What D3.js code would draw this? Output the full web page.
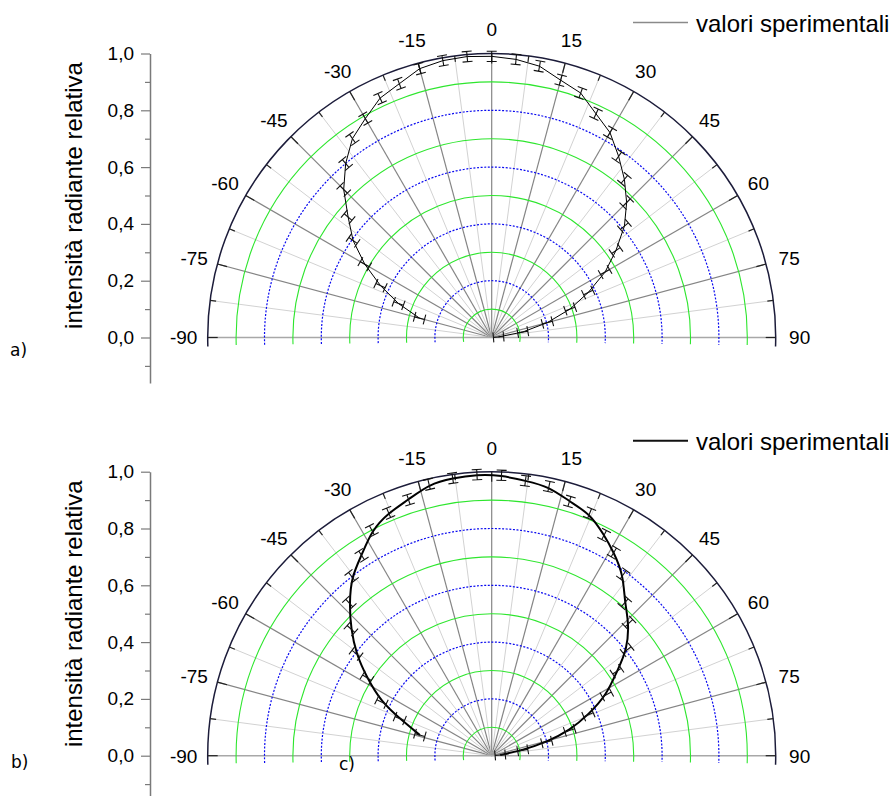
<!DOCTYPE html>
<html>
<head>
<meta charset="utf-8">
<script src="https://cdn.jsdelivr.net/npm/d3@7"></script>
<style>
  body { margin: 0; background: #fff; }
  svg { display: block; }
  text { font-family: "Liberation Sans", Arial, sans-serif; fill: #000; }
  text.letter { font-family: "DejaVu Sans", sans-serif; }
</style>
</head>
<body>
<div id="chart"></div>
<script>
// angle labels round the half circle (degrees)
const angleLabels = [-90, -75, -60, -45, -30, -15, 0, 15, 30, 45, 60, 75, 90];
// rings of the polar grid
const greenRings = [0.1, 0.3, 0.5, 0.7, 0.9];
const blueRings = [0.2, 0.4, 0.6, 0.8];
// radial axis ticks
const yTicks = [-0.1, 0, 0.1, 0.2, 0.3, 0.4, 0.5, 0.6, 0.7, 0.8, 0.9, 1.0];
const yLabels = [0, 0.2, 0.4, 0.6, 0.8, 1.0];

const axisTitle = 'intensità radiante relativa';
const legendText = 'valori sperimentali';

// a) measured points
const anglesA = [-75, -70, -65, -60, -55, -50, -45, -40, -35, -30, -25, -20, -15, -10, -5, 0,
                 5, 10, 15, 20, 25, 30, 35, 40, 45, 50, 55, 60, 65, 70, 75, 80, 85];
const valuesA = [0.263, 0.349, 0.432, 0.516, 0.596, 0.66, 0.737, 0.80, 0.855, 0.89, 0.93, 0.951, 0.98, 0.99, 0.993, 0.99,
                 0.983, 0.97, 0.938, 0.916, 0.869, 0.833, 0.779, 0.727, 0.672, 0.61, 0.534, 0.461, 0.375, 0.294, 0.203, 0.111, 0.024];
const errA = 0.018;

// b) measured points
const anglesB = [-74, -68, -64, -58, -53, -48, -43, -38, -33, -28, -23, -18, -13, -8, -3,
                 2, 7, 12, 17, 22, 27, 31, 36, 41, 46, 52, 56, 62, 67, 72, 76, 80, 85];
const valuesB = [0.263, 0.349, 0.432, 0.518, 0.598, 0.667, 0.735, 0.801, 0.841, 0.899, 0.929, 0.948, 0.981, 0.987, 0.991,
                 0.988, 0.975, 0.969, 0.936, 0.92, 0.872, 0.835, 0.788, 0.714, 0.672, 0.605, 0.532, 0.459, 0.37, 0.289, 0.2, 0.111, 0.03];
const errB = 0.018;

const width = 896;
const height = 796;
const R = 284;
const cx = 491.7;
const axisX = 150;

const svg = d3.select('#chart')
              .append('svg')
              .attr('width', width)
              .attr('height', height);

const rScale = d3.scaleLinear().domain([0, 1]).range([0, R]);
const toRad = (d) => d * Math.PI / 180;
const fmt = (d) => d3.format('.1f')(d).replace('.', ',');

function ringPath(rPx, ext) {
  // upper half circle, running a few pixels past the base line
  const da = Math.asin(Math.min(ext / rPx, 0.4));
  const p = d3.path();
  p.arc(0, 0, rPx, Math.PI - da, 2 * Math.PI + da);
  return p.toString();
}

function drawPanel(cy, angles, values, err, opts) {
  const g = svg.append('g');
  const p = g.append('g').attr('transform', 'translate(' + cx + ',' + cy + ')');

  // spokes every 7.5 degrees
  const spokes = d3.range(-82.5, 90, 7.5);
  p.selectAll('.spoke')
   .data(spokes)
   .join('line')
   .attr('x1', 0).attr('y1', 0)
   .attr('x2', (d) => d3.pointRadial(toRad(d), R)[0])
   .attr('y2', (d) => d3.pointRadial(toRad(d), R)[1])
   .attr('stroke', (d) => (Math.abs(d) % 15 === 0 ? '#858585' : '#d2d2d2'))
   .attr('stroke-width', (d) => (Math.abs(d) % 15 === 0 ? 1.2 : 1));

  // base line
  p.append('line')
   .attr('x1', -R).attr('x2', R)
   .attr('y1', 0).attr('y2', 0)
   .attr('stroke', '#a8a8a8')
   .attr('stroke-width', 1.5);

  // rings
  p.selectAll('.green')
   .data(greenRings)
   .join('path')
   .attr('d', (d) => ringPath(rScale(d), 4 + 4 * d))
   .attr('fill', 'none')
   .attr('stroke', '#2ee62e')
   .attr('stroke-width', 1.1);

  p.selectAll('.blue')
   .data(blueRings)
   .join('path')
   .attr('d', (d) => ringPath(rScale(d), 4 + 4 * d))
   .attr('fill', 'none')
   .attr('stroke', '#0a0af0')
   .attr('stroke-width', 1.2)
   .attr('stroke-dasharray', '2,1.6');

  // outer arc
  p.append('path')
   .attr('d', ringPath(R, 9))
   .attr('fill', 'none')
   .attr('stroke', '#1c1c3a')
   .attr('stroke-width', 1.5);

  // ticks on the outer arc
  const arcTicks = d3.range(-90, 90.1, 7.5);
  p.selectAll('.atick')
   .data(arcTicks)
   .join('line')
   .attr('x1', (d) => d3.pointRadial(toRad(d), R)[0])
   .attr('y1', (d) => d3.pointRadial(toRad(d), R)[1])
   .attr('x2', (d) => d3.pointRadial(toRad(d), R - (d % 15 === 0 ? 10 : 6))[0])
   .attr('y2', (d) => d3.pointRadial(toRad(d), R - (d % 15 === 0 ? 10 : 6))[1])
   .attr('stroke', '#222')
   .attr('stroke-width', 1.2);

  // angle labels
  p.selectAll('.alabel')
   .data(angleLabels)
   .join('text')
   .attr('x', (d) => d3.pointRadial(toRad(d), 308)[0])
   .attr('y', (d) => d3.pointRadial(toRad(d), 308)[1])
   .attr('dy', '0.36em')
   .attr('text-anchor', 'middle')
   .attr('font-size', 19)
   .text((d) => d);

  // data
  const pts = angles.map((a, i) => ({ a: toRad(a), r: values[i] }));

  const line = d3.lineRadial()
                 .angle((d) => d.a)
                 .radius((d) => rScale(d.r))
                 .curve(opts.curve);

  p.append('path')
   .datum(pts)
   .attr('d', line)
   .attr('fill', 'none')
   .attr('stroke', '#000')
   .attr('stroke-width', opts.lineWidth);

  // radial error bars with caps
  const cap = 5;
  const bars = p.append('g')
                .attr('stroke', '#111')
                .attr('stroke-width', 1.1)
                .attr('fill', 'none');
  bars.selectAll('path')
      .data(pts)
      .join('path')
      .attr('d', (d) => {
        const lo = d3.pointRadial(d.a, rScale(d.r - err));
        const hi = d3.pointRadial(d.a, rScale(d.r + err));
        const tx = Math.cos(d.a) * cap;
        const ty = Math.sin(d.a) * cap;
        return 'M' + lo + 'L' + hi +
               'M' + (hi[0] - tx) + ',' + (hi[1] - ty) + 'L' + (hi[0] + tx) + ',' + (hi[1] + ty) +
               'M' + (lo[0] - tx) + ',' + (lo[1] - ty) + 'L' + (lo[0] + tx) + ',' + (lo[1] + ty);
      });

  // left value axis
  const yScale = d3.scaleLinear()
                   .domain([-0.16, 1])
                   .range([cy + 0.16 * R, cy - R]);

  const yAxis = d3.axisLeft(yScale)
                  .tickValues(yTicks)
                  .tickSizeOuter(0)
                  .tickSizeInner(9)
                  .tickPadding(7)
                  .tickFormat((d) => (yLabels.some((v) => Math.abs(v - d) < 1e-6) ? fmt(d) : ''));

  const ax = g.append('g')
              .attr('transform', 'translate(' + axisX + ',0)')
              .call(yAxis);
  ax.select('.domain').attr('stroke', '#7a7a7a').attr('stroke-width', 1.5);
  ax.selectAll('.tick line')
    .attr('stroke', '#7a7a7a')
    .attr('stroke-width', 1.2)
    .attr('x2', (d) => (yLabels.some((v) => Math.abs(v - d) < 1e-6) ? -9 : -5));
  ax.selectAll('.tick text')
    .attr('font-size', 19)
    .attr('fill', '#000');

  // axis title
  g.append('text')
   .attr('transform', 'translate(82,' + (cy - 142) + ') rotate(-90)')
   .attr('text-anchor', 'middle')
   .attr('font-size', 24)
   .text(axisTitle);

  // legend
  g.append('line')
   .attr('x1', 633).attr('x2', 688)
   .attr('y1', cy - R - 31).attr('y2', cy - R - 31)
   .attr('stroke', opts.legendColor)
   .attr('stroke-width', opts.legendWidth);
  g.append('text')
   .attr('x', 696)
   .attr('y', cy - R - 22)
   .attr('font-size', 24)
   .text(legendText);

  // panel letters
  opts.letters.forEach((l) => {
    g.append('text')
     .attr('class', 'letter')
     .attr('x', l.x)
     .attr('y', cy + l.dy)
     .attr('font-size', 17)
     .text(l.t);
  });
}

drawPanel(337.5, anglesA, valuesA, errA, {
  curve: d3.curveLinear,
  lineWidth: 1,
  legendColor: '#8a8a8a',
  legendWidth: 1.5,
  letters: [{ t: 'a)', x: 10, dy: 18 }]
});

drawPanel(755.7, anglesB, valuesB, errB, {
  curve: d3.curveBasis,
  lineWidth: 2,
  legendColor: '#111',
  legendWidth: 2,
  letters: [{ t: 'b)', x: 11, dy: 12 }, { t: 'c)', x: 339, dy: 14 }]
});
</script>
</body>
</html>
